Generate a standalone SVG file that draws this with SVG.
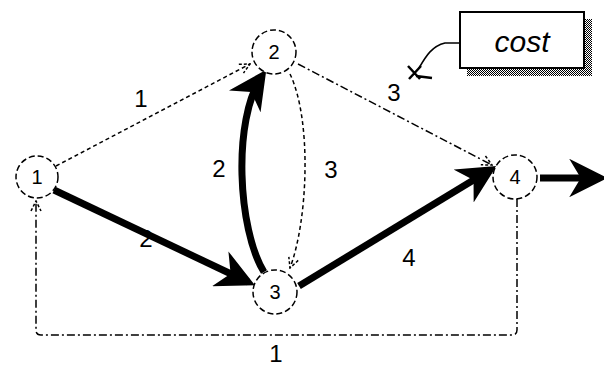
<svg xmlns="http://www.w3.org/2000/svg" width="604" height="366" viewBox="0 0 604 366">
<style>
.node{fill:#fff;stroke:#000;stroke-width:1.5;stroke-dasharray:6 3}
.nl{font-family:"Liberation Sans",Arial,sans-serif;font-size:20px;text-anchor:middle;fill:#000}
.el{font-family:"Liberation Sans",Arial,sans-serif;font-size:24px;text-anchor:middle;fill:#000}
.thin{fill:none;stroke:#000;stroke-width:1.5;stroke-dasharray:4 3}
.dd{fill:none;stroke:#000;stroke-width:1.5;stroke-dasharray:8 3 2 3}
.thick{fill:none;stroke:#000;stroke-width:7}
</style>
<defs>
<pattern id="stip" width="2" height="2" patternUnits="userSpaceOnUse"><rect width="1" height="1" fill="#000"/><rect x="1" y="1" width="1" height="1" fill="#000"/></pattern>
<marker id="open" viewBox="0 0 12 12" refX="11" refY="6" markerWidth="12" markerHeight="12" markerUnits="userSpaceOnUse" orient="auto"><path d="M1,1 L11,6 L1,11" fill="none" stroke="#000" stroke-width="1.5" stroke-dasharray="3 2"/></marker>
<marker id="fat" viewBox="0 0 10 10" refX="8" refY="5" markerWidth="5.5" markerHeight="5.5" orient="auto"><path d="M0,0 L10,5 L0,10 L3,5 Z" fill="#000"/></marker>
</defs>
<g id="connectors">
<path class="thin" d="M56,166 L250,64" marker-end="url(#open)"/>
<path class="thick" d="M54,190 L248,282" marker-end="url(#fat)"/>
<path class="thick" d="M264,272 C238,230 232,120 262,76" marker-end="url(#fat)"/>
<path class="thin" d="M290,74 C312,120 308,220 290,268" marker-end="url(#open)"/>
<path class="dd" d="M298,64 L492,165" marker-end="url(#open)"/>
<path class="thick" d="M299,286 L490,170" marker-end="url(#fat)"/>
<path class="dd" d="M517,199 L517,330 Q517,335 512,335 L41,335 Q36,335 36,330 L36,201" marker-end="url(#open)"/>
<path class="thick" d="M540,178 L600,178" marker-end="url(#fat)"/>
<text class="el" x="141" y="107">1</text>
<text class="el" x="146" y="247">2</text>
<text class="el" x="219" y="177">2</text>
<text class="el" x="331" y="178">3</text>
<text class="el" x="394" y="101">3</text>
<text class="el" x="409" y="266">4</text>
<text class="el" x="276" y="362">1</text>
</g>
<g id="n1"><circle class="node" cx="37" cy="177" r="21"/><text class="nl" x="37" y="184">1</text></g>
<g id="n2"><circle class="node" cx="274" cy="52" r="22"/><text class="nl" x="274" y="59">2</text></g>
<g id="n3"><circle class="node" cx="275" cy="292" r="22"/><text class="nl" x="275" y="299">3</text></g>
<g id="n4"><circle class="node" cx="515" cy="177" r="22"/><text class="nl" x="515" y="184">4</text></g>
<g id="cost">
<rect x="467" y="19" width="125" height="57" fill="url(#stip)"/>
<rect x="460" y="12" width="124" height="56" fill="#fff" stroke="#000" stroke-width="2"/>
<text x="522" y="52" font-family="Liberation Sans,Arial,sans-serif" font-size="30" font-style="italic" text-anchor="middle">cost</text>
<path d="M460,43 L445,43 C432,46 426,56 419,68" fill="none" stroke="#000" stroke-width="1.5"/>
<path d="M408,66 L420,79 M421,66 L409,79 M416,76 L432,78" fill="none" stroke="#000" stroke-width="2.5"/>
</g>
</svg>
